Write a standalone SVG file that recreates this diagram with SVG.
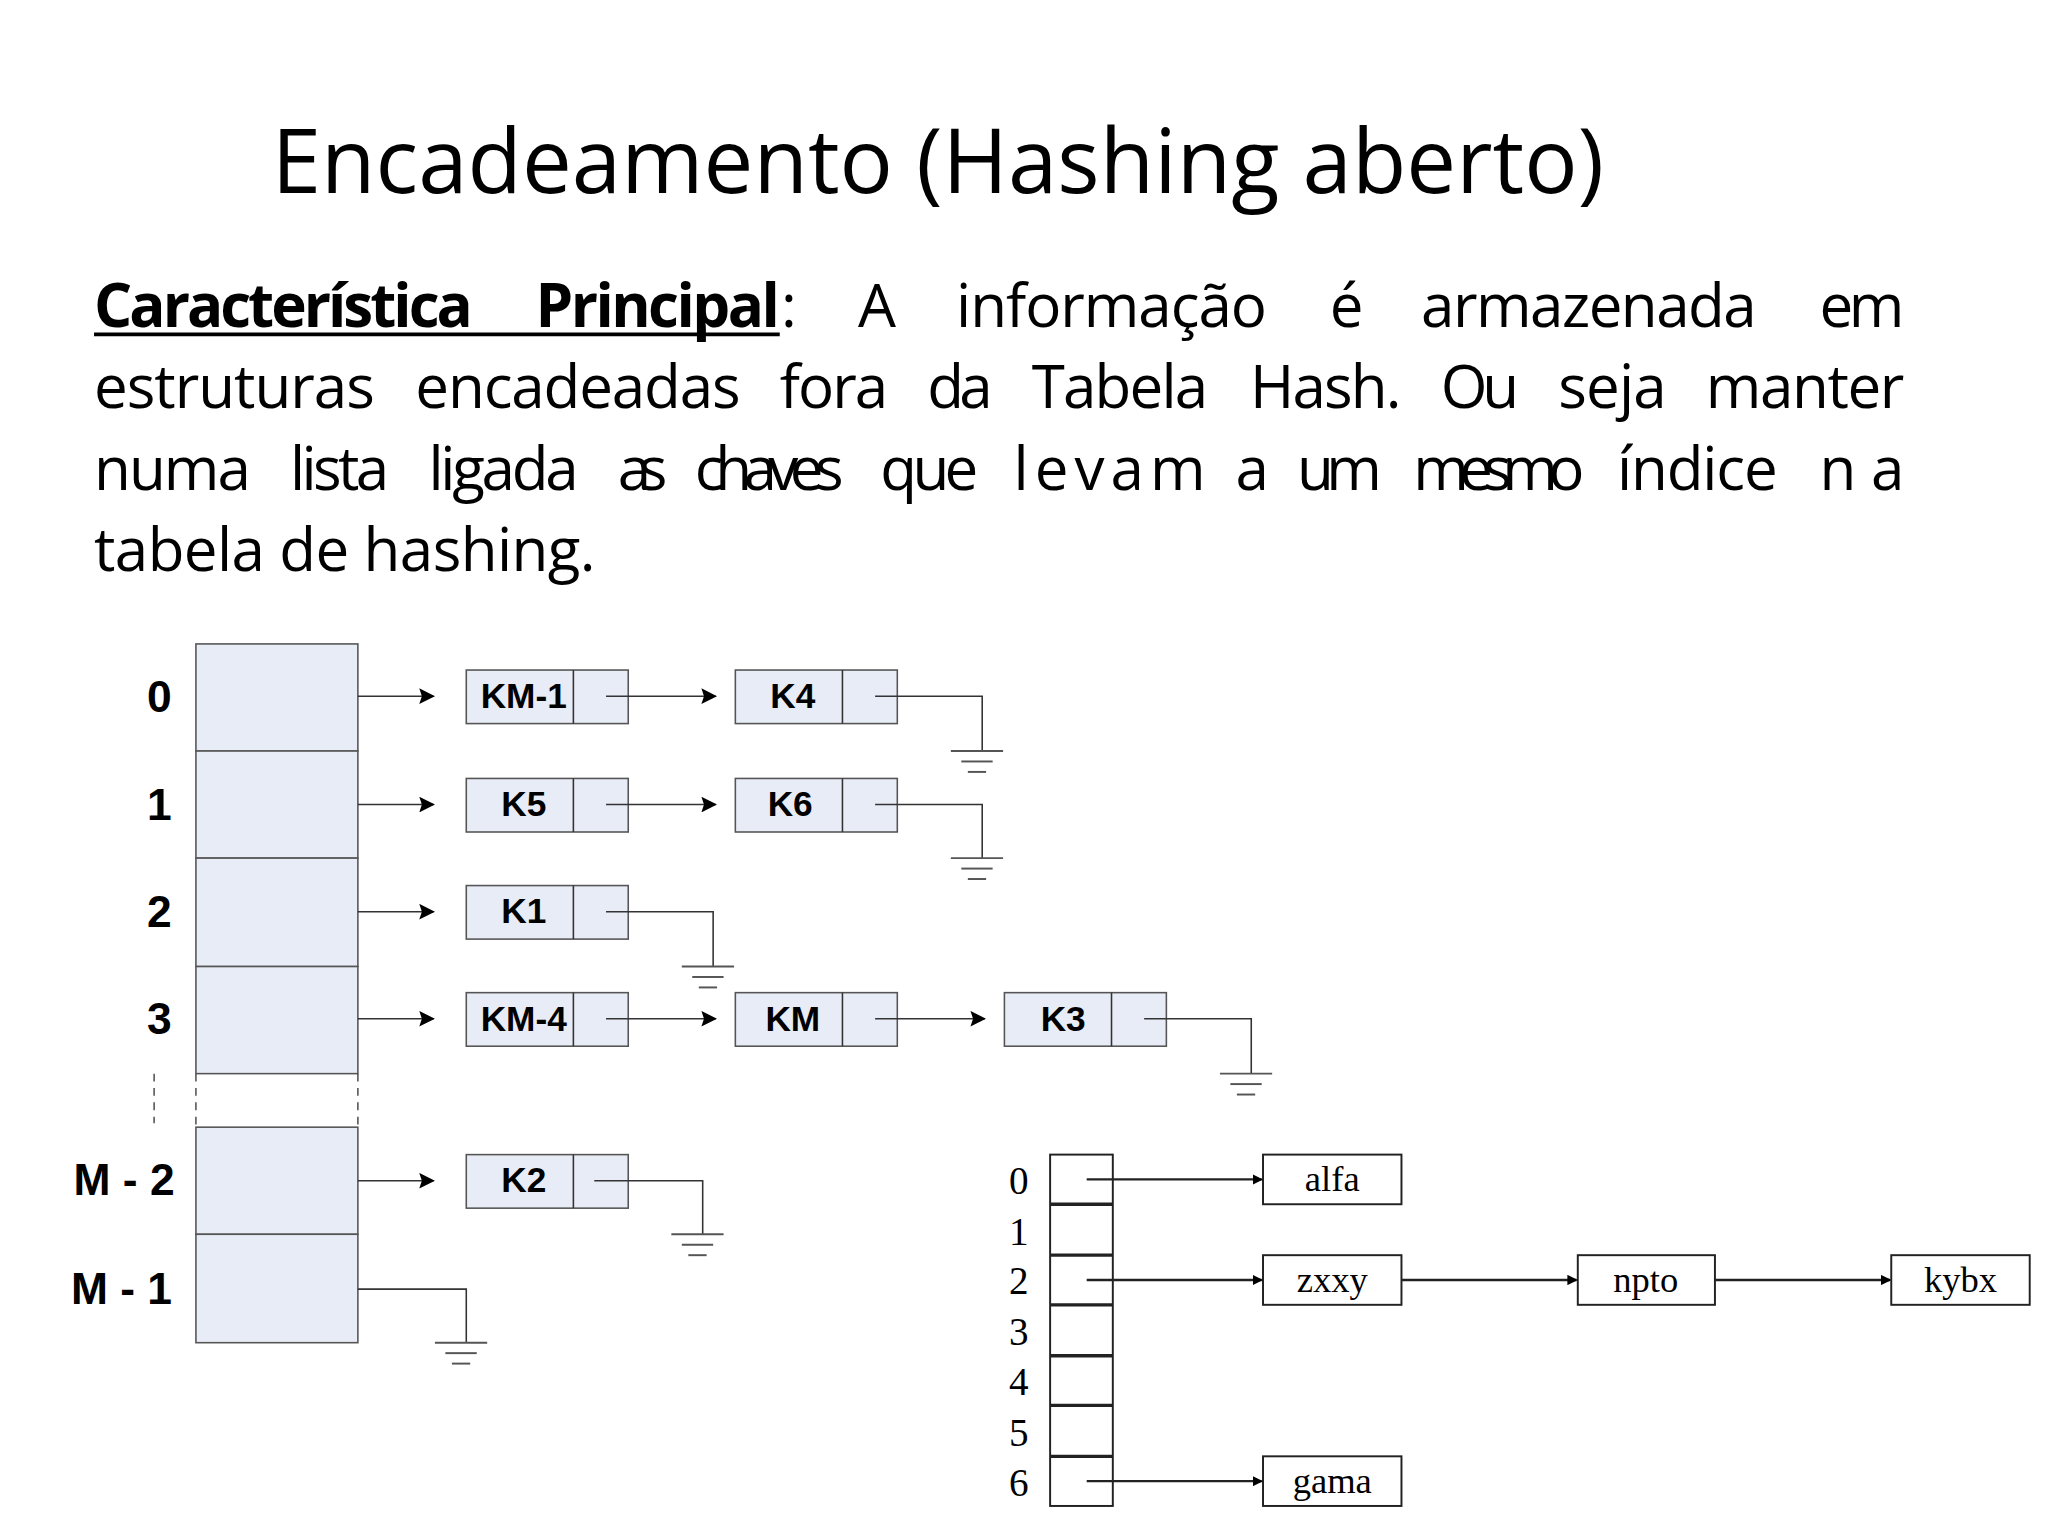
<svg xmlns="http://www.w3.org/2000/svg" width="2048" height="1536" viewBox="0 0 2048 1536">
<style>
.t{font-family:"Open Sans","Noto Sans",sans-serif;fill:#000}
.lb{font-family:"Liberation Sans",Arial,sans-serif;font-weight:bold;fill:#000;text-anchor:middle}
.sf{font-family:"Liberation Serif","Times New Roman",serif;fill:#000;text-anchor:middle}
.cell{fill:#e8ecf6;stroke:#555;stroke-width:1.2}
.ln{stroke:#333;stroke-width:1.2;fill:none}
.dl{stroke:#555;stroke-width:1.2;stroke-dasharray:6,5;fill:none}
.rc{fill:#fff;stroke:#222;stroke-width:1.5}
</style>
<defs>
<marker id="a" markerWidth="12" markerHeight="12" refX="11" refY="6" orient="auto" markerUnits="userSpaceOnUse"><path d="M0,0 L12,6 L0,12 L2,6 z" fill="#000"/></marker>
<marker id="s" markerWidth="8" markerHeight="8" refX="7" refY="4" orient="auto" markerUnits="userSpaceOnUse"><path d="M0,0 L8,4 L0,8 z" fill="#000"/></marker>
<g id="gnd"><line x1="-20" y1="0" x2="20" y2="0" stroke="#555" stroke-width="1.5"/><line x1="-12" y1="8" x2="12" y2="8" stroke="#555" stroke-width="1.5"/><line x1="-7" y1="16" x2="7" y2="16" stroke="#555" stroke-width="1.5"/></g>
</defs>
<rect width="2048" height="1536" fill="#fff"/>
<g transform="scale(1.30612)">
<g id="title"><text class="t" x="208" y="148" font-size="68" textLength="1020">Encadeamento (Hashing aberto)</text></g>
<g id="paragraph" font-size="46">
<text class="t" x="72" y="250" font-weight="bold" textLength="290">Característica</text>
<text class="t" x="410" y="250" font-weight="bold" textLength="187">Principal</text>
<line x1="72" y1="256" x2="597" y2="256" stroke="#000" stroke-width="3"/>
<text class="t" x="598" y="250">:</text>
<text class="t" x="657" y="250">A</text>
<text class="t" x="732" y="250" textLength="238">informação</text>
<text class="t" x="1018" y="250">é</text>
<text class="t" x="1088" y="250" textLength="257">armazenada</text>
<text class="t" x="1393" y="250" textLength="65">em</text>
<text class="t" x="72" y="312" textLength="215">estruturas</text>
<text class="t" x="318" y="312" textLength="249">encadeadas</text>
<text class="t" x="597" y="312" textLength="83">fora</text>
<text class="t" x="710" y="312" textLength="50">da</text>
<text class="t" x="790" y="312" textLength="135">Tabela</text>
<text class="t" x="957" y="312" textLength="116">Hash.</text>
<text class="t" x="1103" y="312" textLength="60">Ou</text>
<text class="t" x="1193" y="312" textLength="83">seja</text>
<text class="t" x="1306" y="312" textLength="152">manter</text>
<text class="t" x="72" y="375" textLength="120">numa</text>
<text class="t" x="222" y="375" textLength="76">lista</text>
<text class="t" x="328" y="375" textLength="115">ligada</text>
<text class="t" x="473" y="375" textLength="38">as</text>
<text class="t" x="532" y="375" textLength="114">chaves</text>
<text class="t" x="674" y="375" textLength="75">que</text>
<text class="t" x="776" y="375" textLength="147">levam</text>
<text class="t" x="946" y="375">a</text>
<text class="t" x="993" y="375" textLength="65">um</text>
<text class="t" x="1082" y="375" textLength="131">mesmo</text>
<text class="t" x="1238" y="375" textLength="123">índice</text>
<text class="t" x="1393" y="375" textLength="65">na</text>
<text class="t" x="72" y="437" textLength="384">tabela de hashing.</text>
</g>
<g id="table-left">
<rect class="cell" x="150" y="493" width="124" height="82"/>
<rect class="cell" x="150" y="575" width="124" height="82"/>
<rect class="cell" x="150" y="657" width="124" height="83"/>
<rect class="cell" x="150" y="740" width="124" height="82"/>
<rect class="cell" x="150" y="863" width="124" height="82"/>
<rect class="cell" x="150" y="945" width="124" height="83"/>
<line class="dl" x1="150" y1="822" x2="150" y2="863"/>
<line class="dl" x1="274" y1="822" x2="274" y2="863"/>
<line class="dl" x1="118" y1="822" x2="118" y2="860"/>
<g font-size="34"><text class="lb" x="122" y="545">0</text><text class="lb" x="122" y="628">1</text><text class="lb" x="122" y="710">2</text><text class="lb" x="122" y="792">3</text><text class="lb" x="95" y="915">M - 2</text><text class="lb" x="93" y="998">M - 1</text></g>
</g>
<g id="nodes-left" font-size="27">
<g id="n-km1"><rect class="cell" x="357" y="513" width="124" height="41"/><line class="ln" x1="439" y1="513" x2="439" y2="554"/><text class="lb" x="401" y="542">KM-1</text></g>
<g id="n-k4"><rect class="cell" x="563" y="513" width="124" height="41"/><line class="ln" x1="645" y1="513" x2="645" y2="554"/><text class="lb" x="607" y="542">K4</text></g>
<g id="n-k5"><rect class="cell" x="357" y="596" width="124" height="41"/><line class="ln" x1="439" y1="596" x2="439" y2="637"/><text class="lb" x="401" y="625">K5</text></g>
<g id="n-k6"><rect class="cell" x="563" y="596" width="124" height="41"/><line class="ln" x1="645" y1="596" x2="645" y2="637"/><text class="lb" x="605" y="625">K6</text></g>
<g id="n-k1"><rect class="cell" x="357" y="678" width="124" height="41"/><line class="ln" x1="439" y1="678" x2="439" y2="719"/><text class="lb" x="401" y="707">K1</text></g>
<g id="n-km4"><rect class="cell" x="357" y="760" width="124" height="41"/><line class="ln" x1="439" y1="760" x2="439" y2="801"/><text class="lb" x="401" y="789">KM-4</text></g>
<g id="n-km"><rect class="cell" x="563" y="760" width="124" height="41"/><line class="ln" x1="645" y1="760" x2="645" y2="801"/><text class="lb" x="607" y="789">KM</text></g>
<g id="n-k3"><rect class="cell" x="769" y="760" width="124" height="41"/><line class="ln" x1="851" y1="760" x2="851" y2="801"/><text class="lb" x="814" y="789">K3</text></g>
<g id="n-k2"><rect class="cell" x="357" y="884" width="124" height="41"/><line class="ln" x1="439" y1="884" x2="439" y2="925"/><text class="lb" x="401" y="913">K2</text></g>
</g>
<g id="connectors-left">
<g class="ln" marker-end="url(#a)">
<line x1="274" y1="533" x2="332" y2="533"/><line x1="274" y1="616" x2="332" y2="616"/><line x1="274" y1="698" x2="332" y2="698"/><line x1="274" y1="780" x2="332" y2="780"/><line x1="274" y1="904" x2="332" y2="904"/>
<line x1="464" y1="533" x2="548" y2="533"/><line x1="464" y1="616" x2="548" y2="616"/><line x1="464" y1="780" x2="548" y2="780"/><line x1="670" y1="780" x2="754" y2="780"/>
</g>
<polyline class="ln" points="670,533 752,533 752,575"/><use href="#gnd" x="748" y="575"/>
<polyline class="ln" points="670,616 752,616 752,657"/><use href="#gnd" x="748" y="657"/>
<polyline class="ln" points="464,698 546,698 546,740"/><use href="#gnd" x="542" y="740"/>
<polyline class="ln" points="876,780 958,780 958,822"/><use href="#gnd" x="954" y="822"/>
<polyline class="ln" points="455,904 538,904 538,945"/><use href="#gnd" x="534" y="945"/>
<polyline class="ln" points="274,987 357,987 357,1028"/><use href="#gnd" x="353" y="1028"/>
</g>
<g id="table-right">
<rect class="rc" x="804" y="884" width="48" height="269"/>
<g stroke="#222" stroke-width="2.5"><line x1="804" y1="922" x2="852" y2="922"/><line x1="804" y1="961" x2="852" y2="961"/><line x1="804" y1="999" x2="852" y2="999"/><line x1="804" y1="1038" x2="852" y2="1038"/><line x1="804" y1="1076" x2="852" y2="1076"/><line x1="804" y1="1115" x2="852" y2="1115"/></g>
<g font-size="30"><text class="sf" x="780" y="914">0</text><text class="sf" x="780" y="953">1</text><text class="sf" x="780" y="991">2</text><text class="sf" x="780" y="1030">3</text><text class="sf" x="780" y="1068">4</text><text class="sf" x="780" y="1107">5</text><text class="sf" x="780" y="1145">6</text></g>
</g>
<g id="nodes-right" font-size="28">
<g id="r-alfa"><rect class="rc" x="967" y="884" width="106" height="38"/><text class="sf" x="1020" y="912">alfa</text></g>
<g id="r-zxxy"><rect class="rc" x="967" y="961" width="106" height="38"/><text class="sf" x="1020" y="989">zxxy</text></g>
<g id="r-npto"><rect class="rc" x="1208" y="961" width="105" height="38"/><text class="sf" x="1260" y="989">npto</text></g>
<g id="r-kybx"><rect class="rc" x="1448" y="961" width="106" height="38"/><text class="sf" x="1501" y="989">kybx</text></g>
<g id="r-gama"><rect class="rc" x="967" y="1115" width="106" height="38"/><text class="sf" x="1020" y="1143">gama</text></g>
</g>
<g id="connectors-right" stroke="#222" stroke-width="1.8" marker-end="url(#s)">
<line x1="832" y1="903" x2="966" y2="903"/><line x1="832" y1="980" x2="966" y2="980"/><line x1="832" y1="1134" x2="966" y2="1134"/>
<line x1="1073" y1="980" x2="1207" y2="980"/><line x1="1313" y1="980" x2="1447" y2="980"/>
</g>
</g>
</svg>
